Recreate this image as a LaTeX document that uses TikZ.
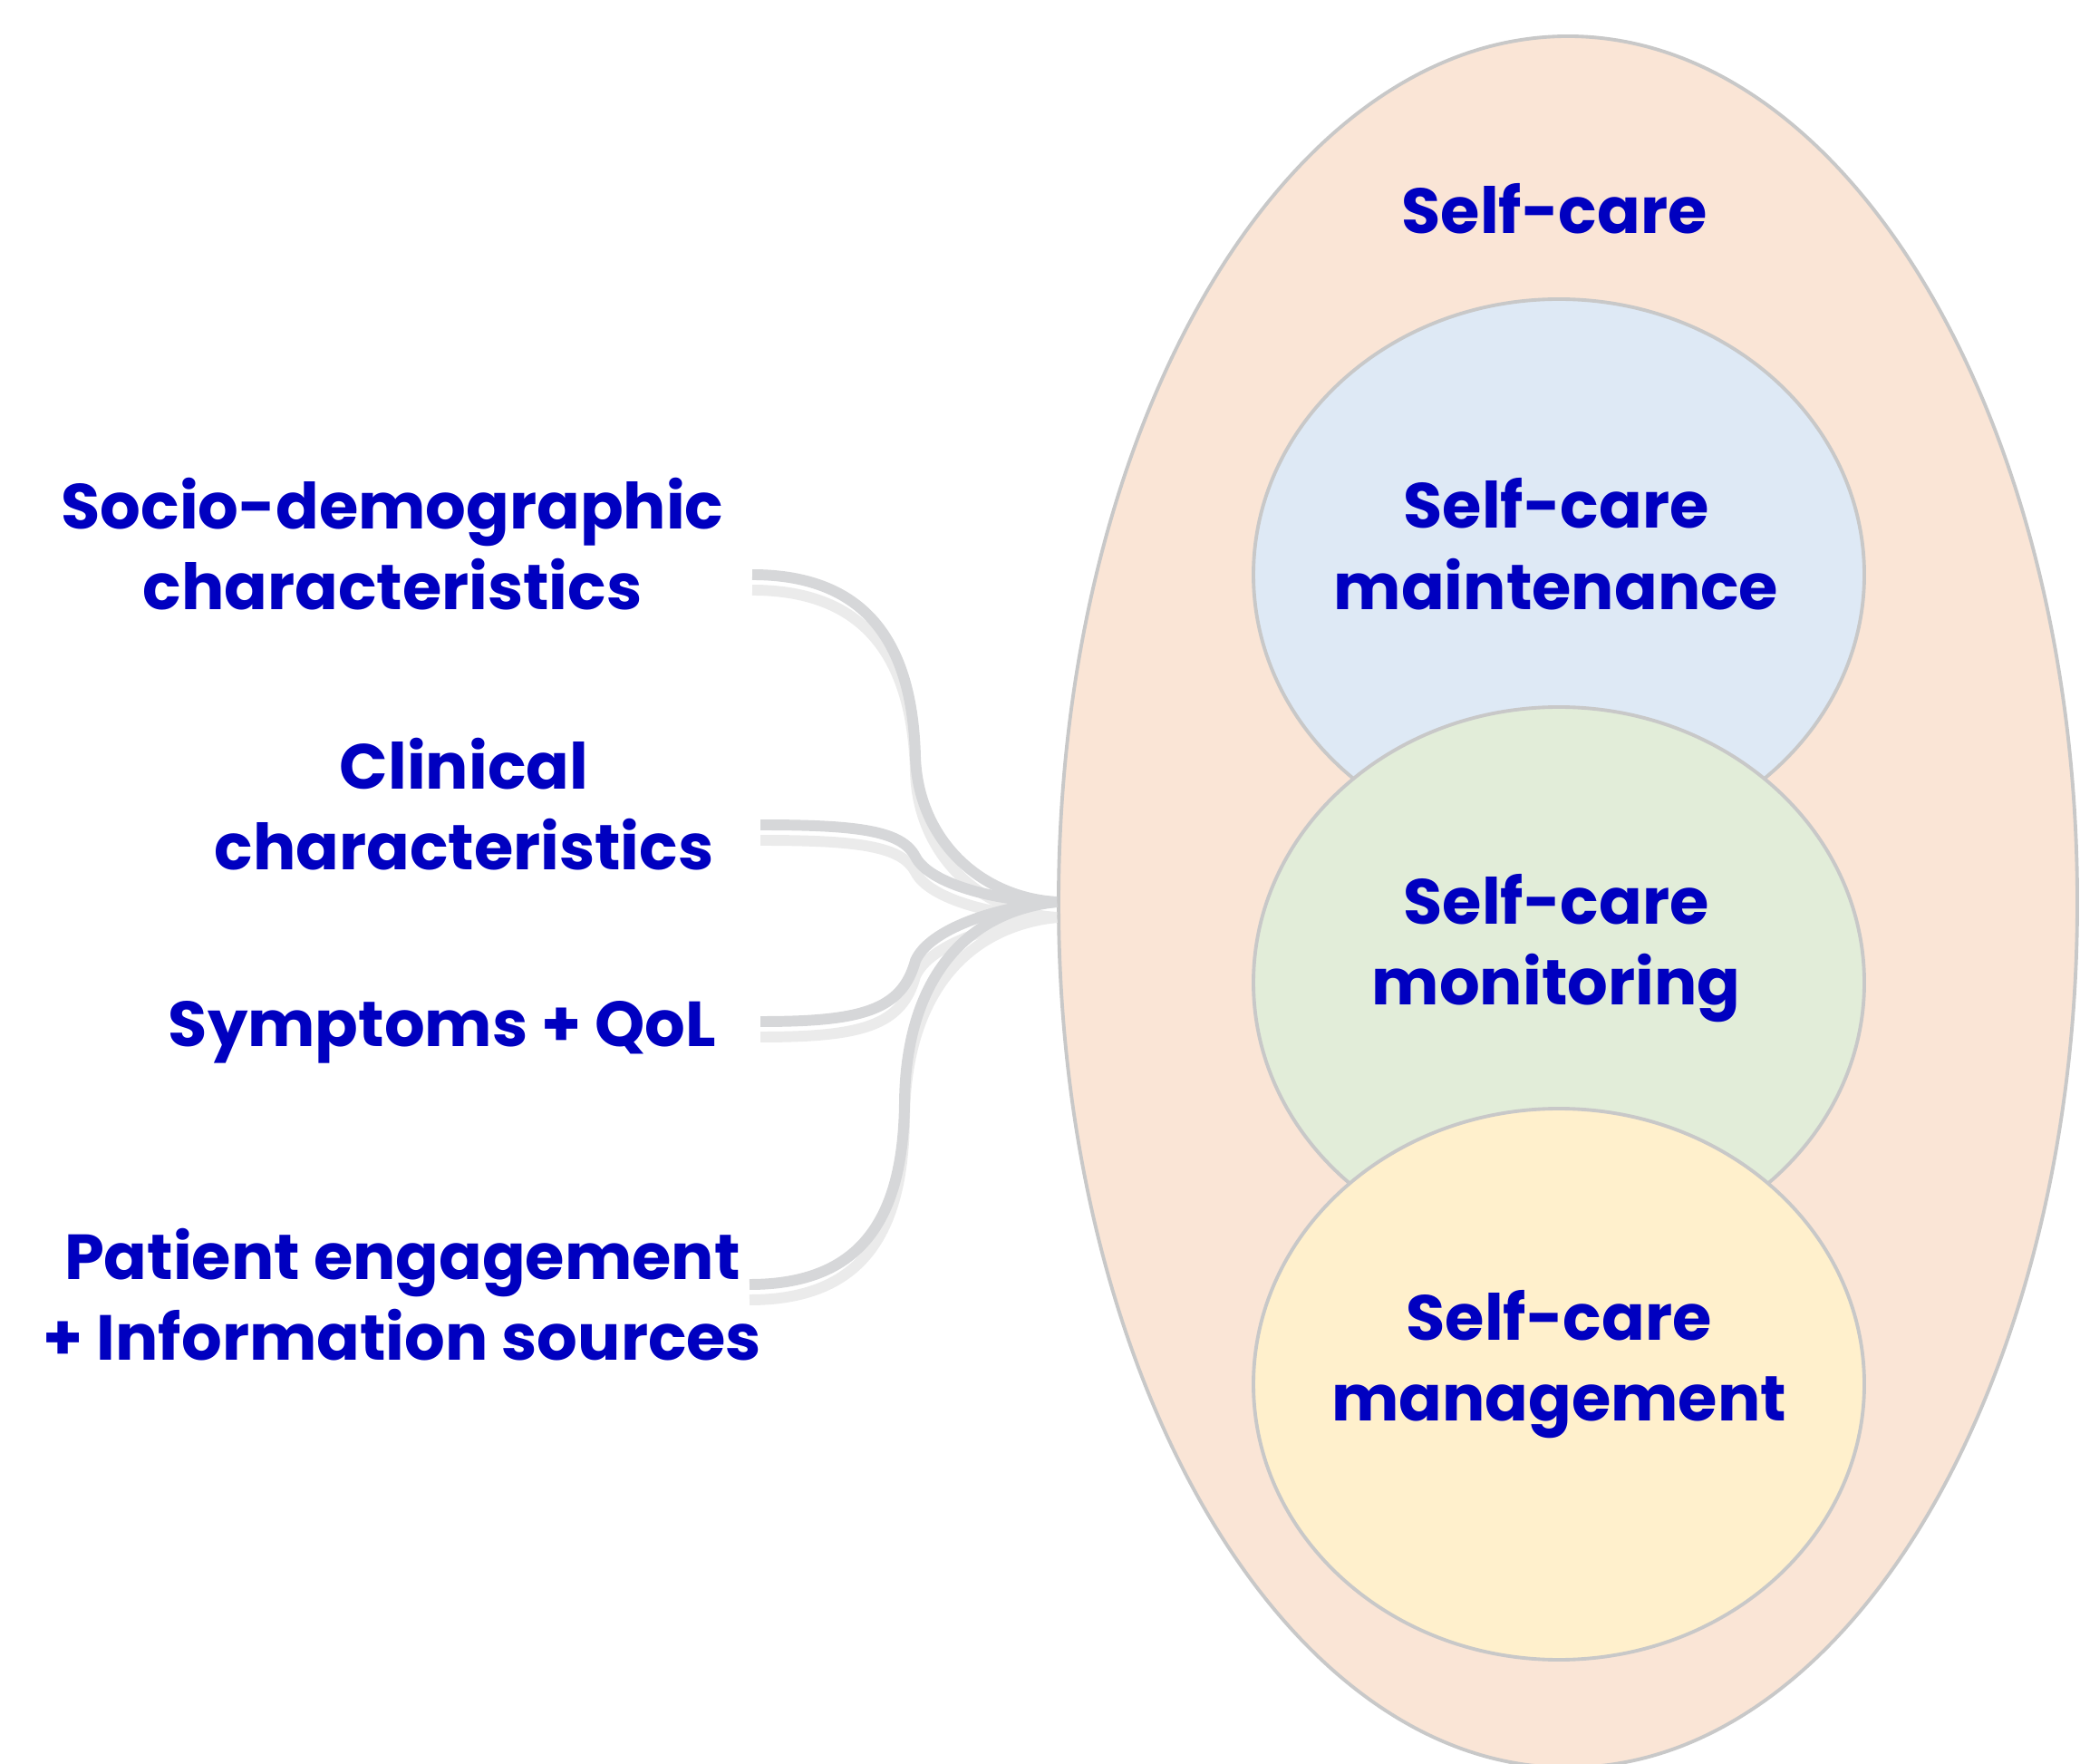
\documentclass[tikz,border=0pt]{standalone}
\usepackage{fontspec}
\setmainfont{Poppins}
\usepackage{xcolor}
\definecolor{carepeach}{HTML}{FAE5D6}
\definecolor{careblue}{HTML}{DEE9F5}
\definecolor{caregreen}{HTML}{E2EDD9}
\definecolor{careyellow}{HTML}{FFF0CC}
\definecolor{caretext}{HTML}{0000C0}
\definecolor{careedge}{HTML}{C8C8C8}
\definecolor{linkdark}{HTML}{D6D7D9}
\definecolor{linklight}{HTML}{EBEBEB}
\usetikzlibrary{shapes.geometric}

\begin{document}
\begin{tikzpicture}[
  oval/.style={ellipse, draw=careedge, line width=1.1pt, inner sep=0pt},
  ring/.style={oval, minimum width=6.74cm, minimum height=6.08cm},
  lbl/.style={font=\fontsize{20}{25.5}\selectfont\bfseries, text=caretext, align=center},
  link/.style={draw=linkdark, line width=3.4pt},
  linkshadow/.style={draw=linklight, line width=3.4pt, transform canvas={yshift=-1.7mm}},
]
\useasboundingbox (0,0) rectangle (22.95,19.45);
\node[oval, fill=carepeach, minimum width=11.24cm, minimum height=19.10cm] (self) at (17.30,9.50) {};
\node[ring, fill=careblue]   (maint) at (17.20,13.11) {};
\node[ring, fill=caregreen]  (monit) at (17.20,8.61) {};
\node[ring, fill=careyellow] (manag) at (17.20,4.18) {};

\node[lbl] (selft)  at (17.15,17.15) {Self-care};
\node[lbl] (maintt) at (17.17,13.45) {Self-care\\maintenance};
\node[lbl] (monitt) at (17.17,8.99)  {Self-care\\monitoring};
\node[lbl] (managt) at (17.20,4.40)  {Self-care\\management};

\node[lbl] (socio) at (4.33,13.45) {Socio-demographic\\characteristics};
\node[lbl] (clin)  at (5.12,10.58) {Clinical\\characteristics};
\node[lbl] (symp)  at (4.88,8.06)  {Symptoms + QoL};
\node[lbl] (pat)   at (4.44,5.17)  {Patient engagement\\+ Information sources};

\coordinate (s1) at (8.30,13.11);
\coordinate (s2) at (8.39,10.35);
\coordinate (s3) at (8.39,8.18);
\coordinate (s4) at (8.27,5.28);

% shadow strokes first, then the darker ones on top
\foreach \st in {linkshadow,link}{
  \draw[\st] (s1) .. controls (9.60,13.11) and (10.07,12.30) .. (10.10,11.10)
                  .. controls (10.13,10.20) and (10.80,9.55) .. (self.west);
  \draw[\st] (s2) .. controls (9.50,10.35) and (9.95,10.28) .. (10.10,10.00)
                  .. controls (10.25,9.70) and (11.00,9.50) .. (self.west);
  \draw[\st] (s3) .. controls (9.50,8.18) and (9.95,8.30) .. (10.10,8.85)
                  .. controls (10.25,9.20) and (11.00,9.45) .. (self.west);
  \draw[\st] (s4) .. controls (9.50,5.28) and (9.97,6.00) .. (9.98,7.30)
                  .. controls (10.00,8.70) and (10.70,9.40) .. (self.west);
}
\end{tikzpicture}
\end{document}
